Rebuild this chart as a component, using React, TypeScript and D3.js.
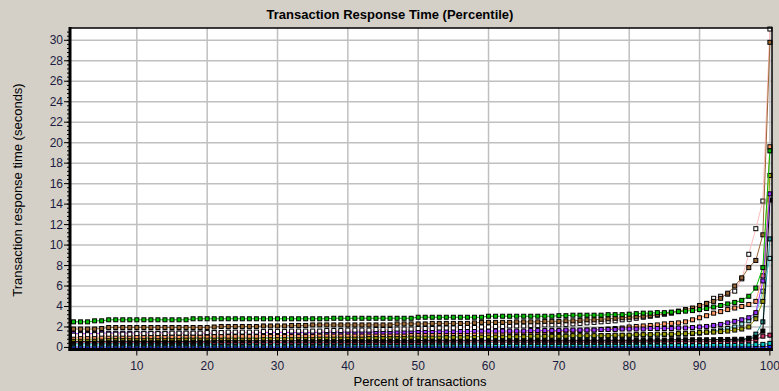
import React from "react";
import * as d3 from "d3";

// percent of transactions (x positions)
const percents = d3.range(1, 101);

const xTicks = [10, 20, 30, 40, 50, 60, 70, 80, 90, 100];
const yTicks = [0, 2, 4, 6, 8, 10, 12, 14, 16, 18, 20, 22, 24, 26, 28, 30];

// response time (seconds) per percentile, one array per transaction
const blueVals = [
  0.05, 0.05, 0.05, 0.05, 0.05, 0.05, 0.05, 0.05, 0.05, 0.05,
  0.05, 0.05, 0.05, 0.05, 0.05, 0.05, 0.05, 0.05, 0.05, 0.05,
  0.05, 0.05, 0.05, 0.05, 0.05, 0.05, 0.05, 0.05, 0.05, 0.05,
  0.05, 0.05, 0.05, 0.05, 0.05, 0.05, 0.05, 0.05, 0.05, 0.05,
  0.05, 0.05, 0.05, 0.05, 0.05, 0.05, 0.05, 0.05, 0.05, 0.05,
  0.05, 0.05, 0.05, 0.05, 0.05, 0.05, 0.05, 0.05, 0.05, 0.05,
  0.05, 0.05, 0.05, 0.05, 0.05, 0.05, 0.05, 0.05, 0.05, 0.05,
  0.05, 0.05, 0.05, 0.05, 0.05, 0.05, 0.05, 0.05, 0.05, 0.05,
  0.05, 0.05, 0.05, 0.05, 0.05, 0.05, 0.05, 0.05, 0.05, 0.05,
  0.05, 0.05, 0.05, 0.05, 0.05, 0.05, 0.05, 0.05, 0.06, 0.1,
];
const cyanVals = [
  0.25, 0.25, 0.25, 0.25, 0.25, 0.25, 0.25, 0.25, 0.25, 0.25,
  0.25, 0.25, 0.25, 0.25, 0.25, 0.25, 0.25, 0.25, 0.25, 0.25,
  0.25, 0.25, 0.25, 0.25, 0.25, 0.25, 0.25, 0.25, 0.25, 0.25,
  0.25, 0.25, 0.25, 0.25, 0.25, 0.25, 0.25, 0.25, 0.25, 0.25,
  0.25, 0.25, 0.25, 0.25, 0.25, 0.25, 0.25, 0.25, 0.25, 0.25,
  0.25, 0.25, 0.25, 0.25, 0.25, 0.25, 0.25, 0.25, 0.25, 0.25,
  0.25, 0.25, 0.25, 0.25, 0.25, 0.25, 0.25, 0.25, 0.25, 0.25,
  0.25, 0.25, 0.25, 0.25, 0.25, 0.25, 0.25, 0.25, 0.25, 0.25,
  0.25, 0.25, 0.25, 0.25, 0.25, 0.25, 0.25, 0.25, 0.25, 0.25,
  0.25, 0.25, 0.25, 0.25, 0.25, 0.25, 0.25, 0.28, 0.3, 0.4,
];
const tealVals = [
  0.4, 0.4, 0.4, 0.4, 0.4, 0.4, 0.4, 0.4, 0.4, 0.4,
  0.4, 0.4, 0.4, 0.4, 0.4, 0.4, 0.4, 0.4, 0.4, 0.4,
  0.42, 0.42, 0.42, 0.42, 0.42, 0.42, 0.42, 0.42, 0.42, 0.42,
  0.42, 0.42, 0.42, 0.42, 0.42, 0.42, 0.42, 0.42, 0.42, 0.42,
  0.45, 0.45, 0.45, 0.45, 0.45, 0.45, 0.45, 0.45, 0.45, 0.45,
  0.45, 0.45, 0.45, 0.45, 0.45, 0.45, 0.45, 0.45, 0.45, 0.45,
  0.5, 0.5, 0.5, 0.5, 0.5, 0.5, 0.5, 0.5, 0.5, 0.5,
  0.5, 0.5, 0.5, 0.5, 0.5, 0.5, 0.5, 0.5, 0.5, 0.5,
  0.5, 0.5, 0.52, 0.52, 0.52, 0.55, 0.55, 0.55, 0.55, 0.55,
  0.55, 0.58, 0.6, 0.62, 0.65, 0.7, 0.9, 1.3, 2.5, 10.6,
];
const redVals = [
  0.5, 0.5, 0.5, 0.5, 0.5, 0.5, 0.5, 0.5, 0.5, 0.5,
  0.5, 0.5, 0.5, 0.5, 0.5, 0.5, 0.5, 0.5, 0.5, 0.5,
  0.5, 0.5, 0.5, 0.5, 0.5, 0.5, 0.5, 0.5, 0.5, 0.5,
  0.5, 0.5, 0.5, 0.5, 0.5, 0.5, 0.5, 0.5, 0.5, 0.5,
  0.5, 0.5, 0.5, 0.5, 0.5, 0.5, 0.5, 0.5, 0.5, 0.5,
  0.55, 0.55, 0.55, 0.55, 0.55, 0.55, 0.55, 0.55, 0.55, 0.55,
  0.55, 0.55, 0.55, 0.55, 0.55, 0.55, 0.55, 0.55, 0.55, 0.55,
  0.55, 0.55, 0.55, 0.55, 0.55, 0.55, 0.55, 0.55, 0.55, 0.55,
  0.6, 0.6, 0.6, 0.6, 0.6, 0.6, 0.6, 0.6, 0.6, 0.6,
  0.6, 0.6, 0.6, 0.6, 0.6, 0.62, 0.65, 0.75, 1.1, 1.2,
];
const blackVals = [
  0.6, 0.6, 0.6, 0.6, 0.6, 0.6, 0.6, 0.6, 0.6, 0.6,
  0.6, 0.6, 0.6, 0.6, 0.6, 0.6, 0.6, 0.6, 0.6, 0.6,
  0.65, 0.65, 0.65, 0.65, 0.65, 0.65, 0.65, 0.65, 0.65, 0.65,
  0.65, 0.65, 0.65, 0.65, 0.65, 0.65, 0.65, 0.65, 0.65, 0.65,
  0.65, 0.65, 0.65, 0.65, 0.65, 0.65, 0.65, 0.65, 0.65, 0.65,
  0.7, 0.7, 0.7, 0.7, 0.7, 0.7, 0.7, 0.7, 0.7, 0.7,
  0.7, 0.7, 0.7, 0.7, 0.7, 0.7, 0.7, 0.7, 0.7, 0.7,
  0.7, 0.7, 0.7, 0.7, 0.7, 0.7, 0.7, 0.7, 0.7, 0.7,
  0.7, 0.7, 0.72, 0.72, 0.72, 0.75, 0.75, 0.75, 0.75, 0.75,
  0.75, 0.75, 0.78, 0.78, 0.8, 0.8, 0.85, 1.0, 1.6, 14.4,
];
const oliveVals = [
  0.8, 0.8, 0.8, 0.8, 0.85, 0.85, 0.85, 0.85, 0.85, 0.85,
  0.85, 0.85, 0.85, 0.85, 0.85, 0.85, 0.85, 0.9, 0.9, 0.9,
  0.9, 0.9, 0.9, 0.9, 0.9, 0.9, 0.9, 0.9, 0.9, 0.9,
  0.9, 0.9, 0.95, 0.95, 0.95, 0.95, 0.95, 0.95, 0.95, 0.95,
  0.95, 0.95, 0.95, 0.95, 0.95, 1.0, 1.0, 1.0, 1.0, 1.0,
  1.0, 1.0, 1.0, 1.0, 1.0, 1.0, 1.0, 1.05, 1.05, 1.05,
  1.05, 1.05, 1.05, 1.05, 1.05, 1.1, 1.1, 1.1, 1.1, 1.1,
  1.1, 1.15, 1.15, 1.15, 1.15, 1.15, 1.15, 1.2, 1.2, 1.2,
  1.25, 1.25, 1.25, 1.3, 1.3, 1.3, 1.35, 1.35, 1.4, 1.45,
  1.5, 1.5, 1.55, 1.6, 1.7, 1.8, 2.0, 2.8, 4.5, 16.8,
];
const aquaVals = [
  0.95, 0.95, 0.95, 0.95, 0.95, 0.95, 0.95, 0.95, 0.95, 0.95,
  0.95, 0.95, 0.95, 0.95, 0.95, 0.95, 0.95, 0.95, 0.95, 0.95,
  0.95, 0.95, 0.95, 0.95, 0.95, 0.95, 0.95, 0.95, 0.95, 0.95,
  1.0, 1.0, 1.0, 1.0, 1.0, 1.0, 1.0, 1.0, 1.0, 1.0,
  1.0, 1.0, 1.0, 1.0, 1.0, 1.0, 1.0, 1.0, 1.0, 1.0,
  1.05, 1.05, 1.05, 1.05, 1.05, 1.05, 1.05, 1.05, 1.05, 1.05,
  1.05, 1.05, 1.05, 1.05, 1.05, 1.1, 1.1, 1.1, 1.1, 1.1,
  1.1, 1.1, 1.1, 1.1, 1.1, 1.15, 1.15, 1.15, 1.15, 1.15,
  1.2, 1.2, 1.2, 1.2, 1.25, 1.25, 1.3, 1.3, 1.35, 1.4,
  1.5, 1.6, 1.7, 1.85, 2.0, 2.3, 2.6, 3.2, 5.5, 8.7,
];
const orangeVals = [
  1.0, 1.0, 1.0, 1.0, 1.0, 1.05, 1.05, 1.05, 1.05, 1.05,
  1.05, 1.05, 1.05, 1.05, 1.05, 1.05, 1.1, 1.1, 1.1, 1.1,
  1.1, 1.1, 1.1, 1.1, 1.1, 1.1, 1.1, 1.15, 1.15, 1.15,
  1.15, 1.15, 1.15, 1.15, 1.15, 1.2, 1.2, 1.2, 1.2, 1.2,
  1.2, 1.2, 1.25, 1.25, 1.25, 1.25, 1.25, 1.25, 1.3, 1.3,
  1.3, 1.3, 1.3, 1.35, 1.35, 1.35, 1.35, 1.35, 1.4, 1.4,
  1.4, 1.4, 1.45, 1.45, 1.45, 1.5, 1.5, 1.5, 1.55, 1.55,
  1.6, 1.6, 1.65, 1.7, 1.7, 1.75, 1.8, 1.85, 1.9, 2.0,
  2.05, 2.1, 2.15, 2.2, 2.3, 2.35, 2.4, 2.5, 2.7, 2.9,
  3.1, 3.35, 3.5, 3.7, 3.85, 4.0, 4.2, 4.5, 7.0, 19.6,
];
const purpleVals = [
  1.35, 1.35, 1.35, 1.35, 1.4, 1.4, 1.4, 1.4, 1.4, 1.4,
  1.4, 1.4, 1.4, 1.4, 1.4, 1.4, 1.4, 1.4, 1.4, 1.4,
  1.45, 1.45, 1.45, 1.45, 1.45, 1.45, 1.45, 1.45, 1.45, 1.45,
  1.45, 1.45, 1.45, 1.45, 1.45, 1.5, 1.5, 1.5, 1.5, 1.5,
  1.5, 1.5, 1.5, 1.5, 1.5, 1.5, 1.5, 1.5, 1.55, 1.55,
  1.55, 1.55, 1.55, 1.55, 1.55, 1.55, 1.55, 1.6, 1.6, 1.6,
  1.6, 1.6, 1.6, 1.6, 1.6, 1.65, 1.65, 1.65, 1.65, 1.65,
  1.7, 1.7, 1.7, 1.7, 1.7, 1.75, 1.75, 1.75, 1.8, 1.8,
  1.8, 1.8, 1.85, 1.85, 1.85, 1.85, 1.9, 1.9, 1.95, 2.0,
  2.05, 2.15, 2.25, 2.4, 2.55, 2.7, 2.9, 3.4, 6.5, 15.0,
];
const pinkVals = [
  1.2, 1.25, 1.25, 1.25, 1.3, 1.3, 1.3, 1.3, 1.3, 1.35,
  1.35, 1.35, 1.35, 1.35, 1.4, 1.4, 1.4, 1.4, 1.4, 1.45,
  1.45, 1.45, 1.5, 1.5, 1.5, 1.5, 1.5, 1.55, 1.55, 1.55,
  1.55, 1.6, 1.6, 1.6, 1.6, 1.6, 1.65, 1.65, 1.65, 1.7,
  1.7, 1.7, 1.7, 1.75, 1.75, 1.75, 1.8, 1.8, 1.8, 1.85,
  1.85, 1.85, 1.9, 1.9, 1.9, 1.95, 1.95, 1.95, 2.0, 2.0,
  2.05, 2.05, 2.1, 2.1, 2.1, 2.15, 2.15, 2.2, 2.2, 2.2,
  2.25, 2.3, 2.35, 2.4, 2.45, 2.5, 2.55, 2.6, 2.7, 2.75,
  2.85, 2.95, 3.05, 3.15, 3.25, 3.35, 3.5, 3.6, 3.75, 3.9,
  4.3, 4.8, 5.0, 5.2, 5.5, 6.7, 9.1, 11.6, 14.3, 31.1,
];
const brownVals = [
  1.8, 1.8, 1.8, 1.8, 1.85, 1.95, 1.95, 1.95, 1.95, 1.95,
  1.95, 1.95, 1.95, 1.95, 1.95, 1.95, 1.95, 1.95, 1.95, 1.95,
  2.0, 2.05, 2.05, 2.05, 2.05, 2.05, 2.05, 2.1, 2.1, 2.1,
  2.1, 2.15, 2.15, 2.15, 2.2, 2.2, 2.2, 2.2, 2.2, 2.2,
  2.2, 2.2, 2.2, 2.2, 2.2, 2.2, 2.3, 2.3, 2.3, 2.3,
  2.3, 2.35, 2.35, 2.35, 2.35, 2.35, 2.35, 2.4, 2.45, 2.45,
  2.45, 2.45, 2.45, 2.5, 2.5, 2.5, 2.5, 2.55, 2.55, 2.55,
  2.6, 2.6, 2.65, 2.7, 2.7, 2.75, 2.8, 2.85, 2.9, 2.95,
  3.0, 3.05, 3.1, 3.2, 3.3, 3.4, 3.55, 3.7, 3.85, 4.1,
  4.3, 4.5, 4.8, 5.3, 6.0, 6.8, 7.8, 8.5, 11.0, 29.8,
];
const greenVals = [
  2.5, 2.5, 2.5, 2.6, 2.6, 2.7, 2.7, 2.7, 2.7, 2.7,
  2.7, 2.7, 2.7, 2.7, 2.7, 2.7, 2.7, 2.8, 2.8, 2.8,
  2.8, 2.8, 2.8, 2.8, 2.8, 2.8, 2.8, 2.8, 2.8, 2.8,
  2.8, 2.8, 2.8, 2.8, 2.8, 2.8, 2.8, 2.85, 2.85, 2.85,
  2.85, 2.85, 2.85, 2.85, 2.85, 2.85, 2.85, 2.85, 2.85, 2.95,
  2.95, 2.95, 2.95, 2.95, 2.95, 2.95, 2.95, 2.95, 2.95, 3.05,
  3.05, 3.05, 3.05, 3.05, 3.05, 3.05, 3.05, 3.05, 3.05, 3.1,
  3.1, 3.15, 3.15, 3.15, 3.15, 3.15, 3.2, 3.2, 3.2, 3.25,
  3.3, 3.35, 3.35, 3.4, 3.4, 3.45, 3.5, 3.55, 3.6, 3.7,
  3.8, 3.95, 4.1, 4.25, 4.4, 4.6, 5.0, 5.8, 7.8, 19.2,
];

const series = [
  { name: "blue", values: blueVals, line: "#2020ff", fill: "#2020ff" },
  { name: "cyan", values: cyanVals, line: "#00c8c8", fill: "#00c8c8" },
  { name: "teal", values: tealVals, line: "#2a9a9a", fill: "#2a9a9a" },
  { name: "red", values: redVals, line: "#cc3366", fill: "#cc3366" },
  { name: "black", values: blackVals, line: "#000000", fill: "#000000" },
  { name: "aqua", values: aquaVals, line: "#66cccc", fill: "#99dddd" },
  { name: "olive", values: oliveVals, line: "#999900", fill: "#999900" },
  { name: "orange", values: orangeVals, line: "#ff9966", fill: "#ff9966" },
  { name: "purple", values: purpleVals, line: "#9933ff", fill: "#9933ff" },
  { name: "pink", values: pinkVals, line: "#ffbcbc", fill: "#ffffff" },
  { name: "brown", values: brownVals, line: "#996633", fill: "#996633" },
  { name: "green", values: greenVals, line: "#00c000", fill: "#00c000" },
];

const W = 779;
const H = 391;
const left = 70;
const right = 772;
const top = 28;
const bottom = 349.5;

export default function App() {
  const x = d3.scaleLinear().domain([0.5, 100.3]).range([left, right]);
  const y = d3.scaleLinear().domain([-0.2, 31.2]).range([bottom, top]);
  const minor = d3.range(0, 31.2, 0.4);

  const line = d3
    .line<number>()
    .x((d, i) => x(percents[i]))
    .y((d) => y(d));

  const font = "'Liberation Sans', Arial, sans-serif";

  return (
    <svg
      width={W}
      height={H}
      style={{ position: "absolute", left: 0, top: 0, background: "#d4d0c8" }}
      fontFamily={font}
    >
      <rect x={0} y={0} width={W} height={H} fill="#d4d0c8" />
      <text x={390} y={19} textAnchor="middle" fontSize={13} fontWeight="bold" fill="#000">
        Transaction Response Time (Percentile)
      </text>

      {/* plot area */}
      <rect x={left} y={top} width={right - left} height={bottom - top} fill="#fff" />
      <clipPath id="plot">
        <rect x={left} y={top - 4} width={right - left + 4} height={bottom - top + 4} />
      </clipPath>

      {/* grid */}
      {xTicks.map((t) => (
        <line key={"gx" + t} x1={x(t)} x2={x(t)} y1={top} y2={bottom} stroke="#c0c0c0" strokeWidth={1.5} />
      ))}
      {yTicks.map((t) => (
        <line key={"gy" + t} x1={left} x2={right} y1={y(t)} y2={y(t)} stroke="#c0c0c0" strokeWidth={1.5} />
      ))}

      {/* series */}
      <g clipPath="url(#plot)">
        {series.map((s) => (
          <g key={s.name}>
            <path d={line(s.values) || ""} fill="none" stroke={s.line} strokeWidth={1} />
            {s.values.map((v, i) => (
              <rect
                key={i}
                x={x(percents[i]) - 2}
                y={y(v) - 2}
                width={4}
                height={4}
                fill={s.fill}
                stroke="#000"
                strokeWidth={1}
              />
            ))}
          </g>
        ))}
      </g>

      {/* frame */}
      <rect x={left} y={top} width={right - left} height={bottom - top} fill="none" stroke="#000" strokeWidth={1.5} />
      <line x1={left} x2={left} y1={top - 1} y2={bottom + 1.5} stroke="#000" strokeWidth={3} />
      <line x1={left - 1.5} x2={right + 1} y1={bottom} y2={bottom} stroke="#000" strokeWidth={3} />

      {/* y axis */}
      {minor.map((t) => (
        <line key={"my" + t} x1={left - 3} x2={left} y1={y(t)} y2={y(t)} stroke="#000" strokeWidth={1} />
      ))}
      {yTicks.map((t) => (
        <g key={"ty" + t}>
          <line x1={left - 6} x2={left} y1={y(t)} y2={y(t)} stroke="#000" strokeWidth={1} />
          <text x={left - 7} y={y(t) + 4} textAnchor="end" fontSize={12} fill="#1c1c40">
            {t}
          </text>
        </g>
      ))}

      {/* x axis */}
      {xTicks.map((t) => (
        <g key={"tx" + t}>
          <line x1={x(t)} x2={x(t)} y1={bottom} y2={bottom + 6} stroke="#000" strokeWidth={1} />
          <text x={x(t)} y={bottom + 20} textAnchor="middle" fontSize={12} fill="#1c1c40">
            {t}
          </text>
        </g>
      ))}

      <text x={420} y={386} textAnchor="middle" fontSize={13} fill="#000">
        Percent of transactions
      </text>
      <text
        transform={`translate(22, ${190}) rotate(-90)`}
        textAnchor="middle"
        fontSize={13}
        fill="#000"
      >
        Transaction response time (seconds)
      </text>
    </svg>
  );
}
